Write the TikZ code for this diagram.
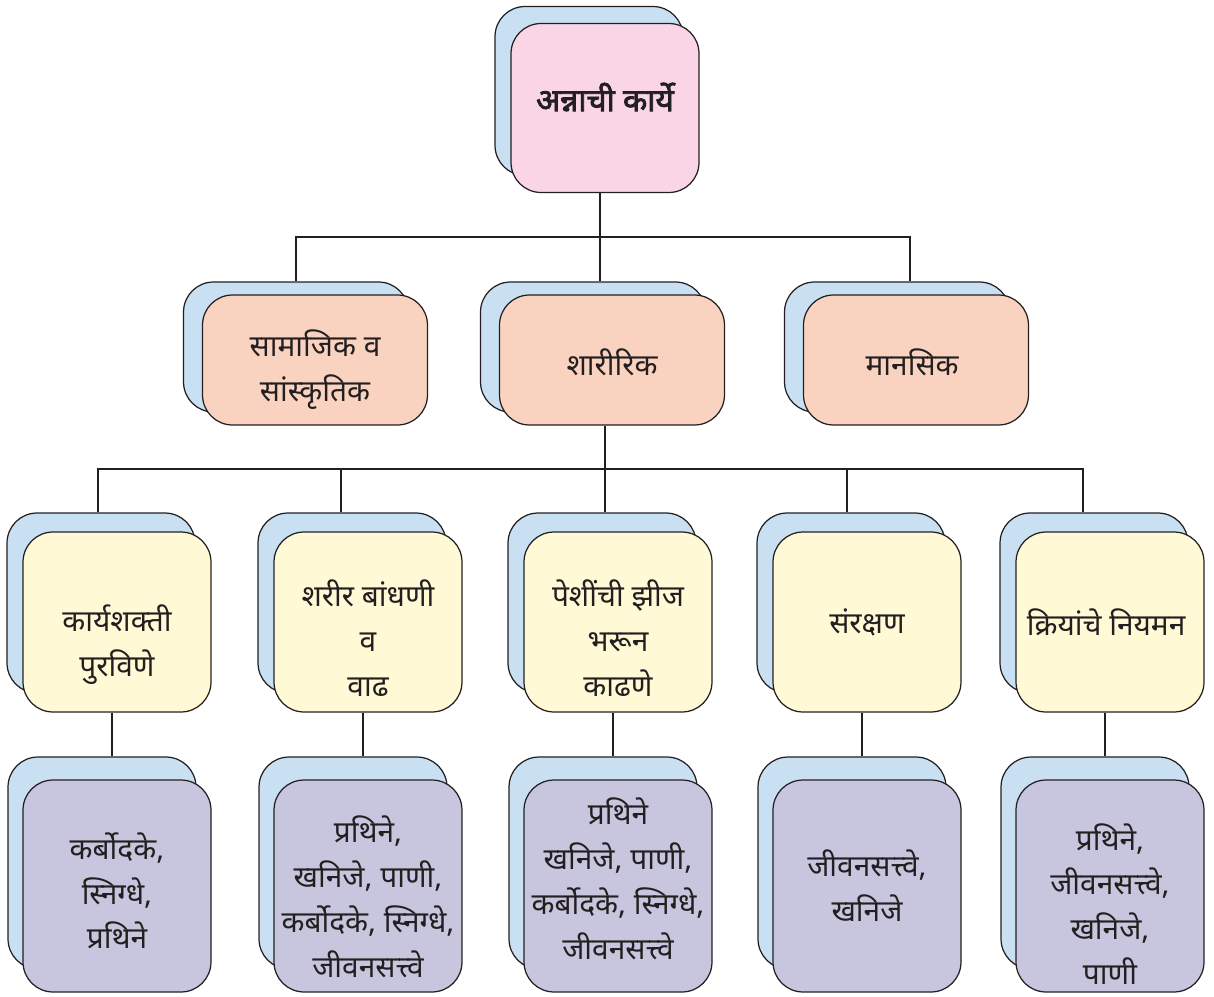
\documentclass[tikz,border=0pt]{standalone}
\usepackage{fontspec}
\setmainfont[Script=Devanagari, AutoFakeBold=2.5]{Noto Sans}
\usetikzlibrary{calc}
\definecolor{backblue}{RGB}{201,224,242}
\definecolor{pinkfill}{RGB}{249,213,229}
\definecolor{salmonfill}{RGB}{250,211,192}
\definecolor{yellowfill}{RGB}{255,249,214}
\definecolor{lilacfill}{RGB}{200,198,222}
\definecolor{inkgrey}{RGB}{35,31,32}

\begin{document}
\begin{tikzpicture}[x=0.02cm, y=-0.02cm, line width=0.7pt,
    card/.style={draw=inkgrey, rounded corners=0.6cm, inner sep=0pt},
    cardbk/.style={card, fill=backblue},
    topsize/.style={minimum width=3.76cm, minimum height=3.38cm},
    l2size/.style={minimum width=4.5cm, minimum height=2.6cm},
    l3size/.style={minimum width=3.76cm, minimum height=3.6cm},
    l4size/.style={minimum width=3.76cm, minimum height=4.24cm},
    txt/.style={align=center, text=inkgrey, inner sep=0pt,
        font=\fontsize{17}{25.5}\selectfont}]

    \useasboundingbox (0,0) rectangle (1214,997);

    % Top card
    \node[cardbk, topsize] (mainb) at (589,91) {};
    \node[card, topsize, fill=pinkfill] (main) at (605,108) {};
    \node[txt, font=\fontsize{18}{26}\selectfont\bfseries] (maintxt)
        at ($(main.center)+(0,-11)$) {अन्नाची कार्ये};

    % Second level
    \foreach \n/\x/\dy/\txt in {
        soc/315/10/{सामाजिक व\\सांस्कृतिक},
        body/612/2/{शारीरिक},
        mind/916/2/{मानसिक}
    }
    {
        \node[cardbk, l2size] (\n b) at (\x-19,347) {};
        \node[card, l2size, fill=salmonfill] (\n) at (\x,360) {};
        \node[txt] (\n txt) at ($(\n.center)+(0,\dy)$) {\txt};
    }

    % Third level
    \foreach \i/\x/\dy/\txt in {
        1/117/23/{कार्यशक्ती\\पुरविणे},
        2/368/16/{शरीर बांधणी\\व\\वाढ},
        3/618/16/{पेशींची झीज\\भरून\\काढणे},
        4/867/0/{संरक्षण},
        5/1110/0/{क्रियांचे नियमन}
    }
    {
        \node[cardbk, l3size] (g\i b) at (\x-16,603) {};
        \node[card, l3size, fill=yellowfill] (g\i) at (\x,622) {};
        \node[txt] (g\i txt) at ($(g\i.center)+(0,\dy)$) {\txt};
    }

    % Fourth level
    \foreach \i/\x in {1/117, 2/368, 3/618, 4/867, 5/1110}
    {
        \node[cardbk, l4size] (n\i b) at (\x-15,863) {};
        \node[card, l4size, fill=lilacfill] (n\i) at (\x,886) {};
    }
    \node[txt] (n1txt) at ($(n1.center)+(0,5)$)
        {कर्बोदके,\\स्निग्धे,\\प्रथिने};
    \node[txt] (n2txt) at ($(n2.center)+(0,11)$)
        {प्रथिने,\\खनिजे, पाणी,\\कर्बोदके, स्निग्धे,\\जीवनसत्त्वे};
    \node[txt] (n3txt) at ($(n3.center)+(0,-7)$)
        {प्रथिने\\खनिजे, पाणी,\\कर्बोदके, स्निग्धे,\\जीवनसत्त्वे};
    \node[txt] (n4txt) at ($(n4.center)+(0,0)$)
        {जीवनसत्त्वे,\\खनिजे};
    \node[txt] (n5txt) at ($(n5.center)+(0,18)$)
        {प्रथिने,\\जीवनसत्त्वे,\\खनिजे,\\पाणी};

    % Connectors
    \coordinate (bus1) at (600,237);
    \coordinate (bus2) at (605,469);
    \draw[inkgrey] (main.south -| bus1) -- (bus1);
    \draw[inkgrey] (socb.north) |- ($(mindb.north |- bus1)+(13,0)$)
        -- ($(mindb.north)+(13,0)$);
    \draw[inkgrey] (bodyb.north -| bus1) -- (bus1);
    \draw[inkgrey] (body.south -| bus2) -- (bus2);
    \draw[inkgrey] ($(g1b.north)+(-3,0)$) |- ($(g5b.north |- bus2)+(-11,0)$)
        -- ($(g5b.north)+(-11,0)$);
    \foreach \i/\dx in {2/-11, 3/3, 4/-4}
        \draw[inkgrey] ($(g\i b.north)+(\dx,0)$) -- ($(g\i b.north |- bus2)+(\dx,0)$);
    \foreach \i in {1,...,5}
        \draw[inkgrey] ($(g\i.south)+(-5,0)$) -- ($(g\i.south |- n\i b.north)+(-5,0)$);

\end{tikzpicture}
\end{document}
